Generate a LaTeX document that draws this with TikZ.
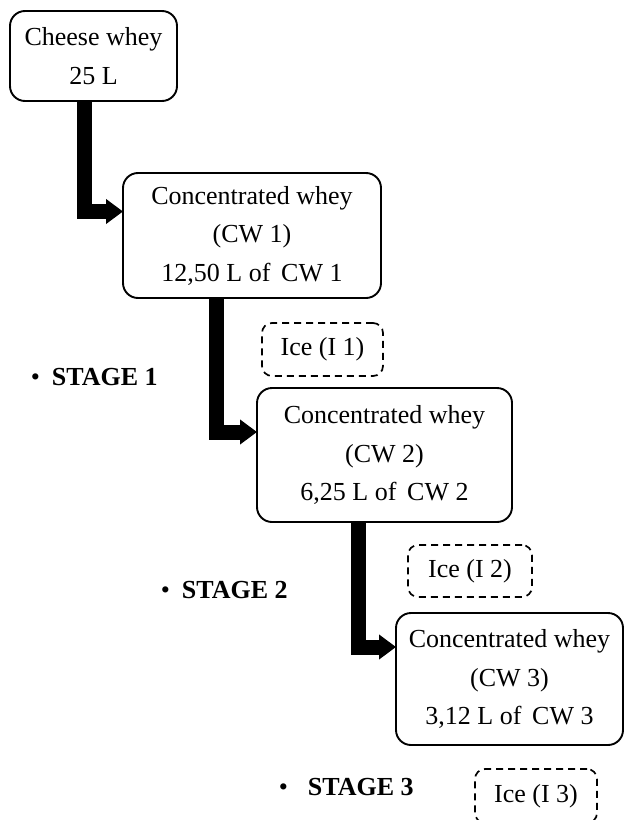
\documentclass[tikz,border=0pt]{standalone}
\usepackage{fontspec}
\setmainfont{Liberation Serif}
\usetikzlibrary{arrows.meta,calc}
\begin{document}
\begin{tikzpicture}[x=1bp,y=-1bp,
  txt/.style={font=\fontsize{26bp}{38.5bp}\selectfont},
  box/.style={txt, draw, line width=1.9bp, rounded corners=15bp, align=center,
    inner sep=0pt, outer sep=0pt, anchor=north west},
  icebox/.style={txt, draw, line width=1.7bp, dash pattern=on 7bp off 5bp,
    rounded corners=10bp, inner sep=0pt, outer sep=0pt, anchor=north west},
  stagelabel/.style={txt, inner sep=0pt, anchor=base west},
  flow/.style={line width=15bp, line join=miter,
    -{Triangle[length=17bp,width=24bp]}}]
  \path[use as bounding box] (0,0) rectangle (624,820);
  \clip (0,0) rectangle (624,820);

  % process boxes
  \node[box, minimum width=167bp, minimum height=90bp] (cheese) at (10,11)
    {Cheese whey\\25 L};
  \node[box, minimum width=258bp, minimum height=125bp] (cw1) at (123,173)
    {Concentrated whey\\(CW 1)\\12,50 L of\, CW 1};
  \node[box, minimum width=255bp, minimum height=134bp] (cw2) at (257,388)
    {Concentrated whey\\(CW 2)\\6,25 L of\, CW 2};
  \node[box, minimum width=227bp, minimum height=132bp] (cw3) at (396,613)
    {Concentrated whey\\(CW 3)\\3,12 L of\, CW 3};

  % ice fractions
  \node[icebox, minimum width=121bp, minimum height=53bp] (ice1) at (262,323) {Ice (I 1)};
  \node[icebox, minimum width=124bp, minimum height=52bp] (ice2) at (408,545) {Ice (I 2)};
  \node[icebox, minimum width=122bp, minimum height=54bp] (ice3) at (475,769) {Ice (I 3)};

  % stage labels
  \node[stagelabel] (stage1) at (30.6,385) {\textbullet\hspace{12bp}\textbf{STAGE 1}};
  \node[stagelabel] (stage2) at (160.6,598) {\textbullet\hspace{12bp}\textbf{STAGE 2}};
  \node[stagelabel] (stage3) at (278.6,795) {\textbullet\hspace{20bp}\textbf{STAGE 3}};

  % elbow arrows between the boxes
  \draw[flow] ($(cheese.south west)+(74.5,-1)$) |- ($(cw1.north west)+(0,38.5)$);
  \draw[flow] ($(cw1.south west)+(93.5,-1)$) |- ($(cw2.north west)+(0,44)$);
  \draw[flow] ($(cw2.south west)+(101.5,-1)$) |- ($(cw3.north west)+(0,34)$);
\end{tikzpicture}
\end{document}
